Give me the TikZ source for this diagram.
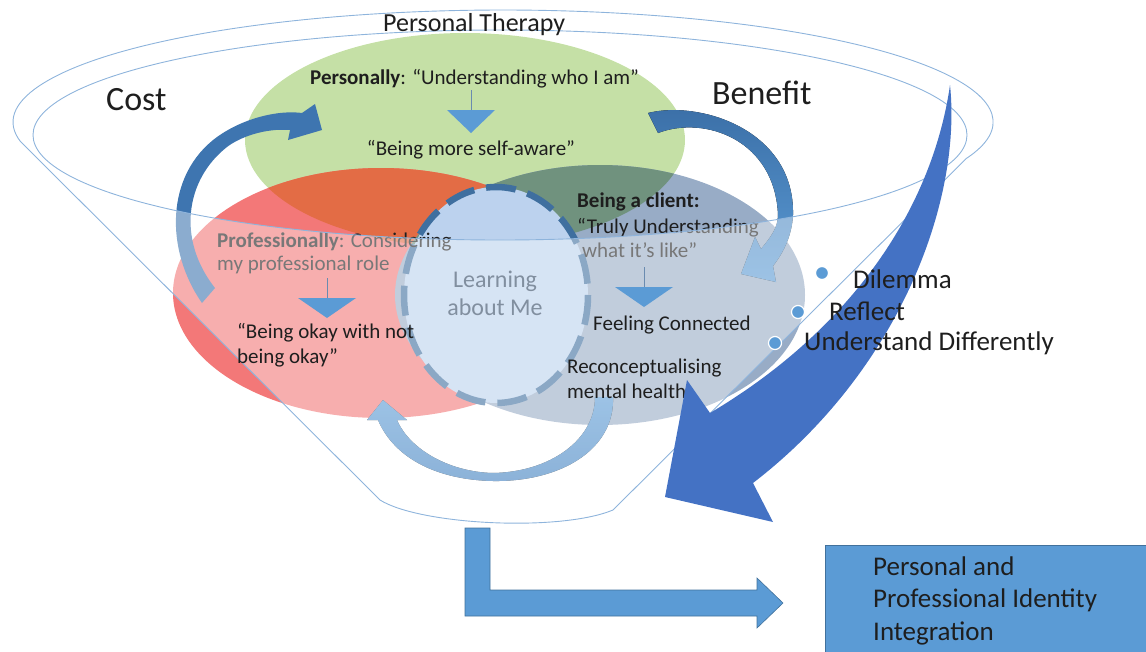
\documentclass[tikz,border=0pt]{standalone}
\usepackage{fontspec}
\setmainfont{Carlito}
\definecolor{greenE}{HTML}{C5E0A6}
\definecolor{redE}{HTML}{F37878}
\definecolor{orangeE}{HTML}{E36C45}
\definecolor{grayE}{HTML}{98ACC6}
\definecolor{dgreenE}{HTML}{70927E}
\definecolor{circfill}{HTML}{BCD2EE}
\definecolor{circline}{HTML}{3F6F9F}
\definecolor{learnc}{HTML}{2E4560}
\definecolor{costc}{HTML}{3E75B0}
\definecolor{bentop}{HTML}{3A6EA6}
\definecolor{benbot}{HTML}{5B9BD5}
\definecolor{rettop}{HTML}{5B9BD5}
\definecolor{retbot}{HTML}{3F7FBF}
\definecolor{triblue}{HTML}{5B9BD5}
\definecolor{stemc}{HTML}{6A8BB0}
\definecolor{funline}{HTML}{8EB4DC}
\definecolor{bigblue}{HTML}{4472C4}
\definecolor{boxblue}{HTML}{5B9BD5}
\definecolor{boxline}{HTML}{41719C}
\definecolor{dark}{HTML}{1E1E1E}
\tikzset{
  lbl/.style={inner sep=0pt, anchor=west, text=dark},
  sm/.style={lbl, font=\fontsize{21}{25}\selectfont, text height=15pt, text depth=4pt},
  mid/.style={lbl, font=\fontsize{24}{29}\selectfont, text height=17pt, text depth=4.8pt},
  md/.style={lbl, font=\fontsize{27}{32}\selectfont, text height=19.5pt, text depth=5.4pt},
  lg/.style={lbl, font=\fontsize{34}{40}\selectfont, text height=24.5pt, text depth=6.8pt},
  tri/.style={fill=triblue},
  stem/.style={draw=stemc, line width=0.8pt},
  fun/.style={draw=funline, line width=0.9pt},
  bdot/.style={circle, fill=triblue, draw=white, line width=1.2pt, minimum size=13pt, inner sep=0pt},
}
\begin{document}
\begin{tikzpicture}[x=1pt,y=-1pt]
\useasboundingbox (0,0) rectangle (1146,651);
% ---- three ellipses
\fill[greenE] (465,140) ellipse [x radius=220, y radius=107];
\fill[redE] (381,293) ellipse [x radius=208, y radius=125];
\begin{scope}
  \clip (465,140) ellipse [x radius=220, y radius=107];
  \fill[orangeE] (381,293) ellipse [x radius=208, y radius=125];
\end{scope}
\fill[grayE] (600,295) ellipse [x radius=205, y radius=130];
\begin{scope}
  \clip (465,140) ellipse [x radius=220, y radius=107];
  \fill[dgreenE] (600,295) ellipse [x radius=205, y radius=130];
\end{scope}
% ---- centre circle
\fill[circfill] (496,295) ellipse [x radius=92, y radius=108];
\draw[circline, line width=6.5pt, dash pattern=on 30pt off 12pt] (496,295) ellipse [x radius=92, y radius=108];
% ---- texts below the funnel veil
\node[sm] (prof1) at (217,241.5) {\textbf{Professionally}: Considering};
\node[sm] (prof2) at (217,265) {my professional role};
\node[sm] (cli1) at (577,201.5) {\textbf{Being a client:}};
\node[sm] (cli2) at (577,227.5) {“Truly Understanding};
\node[sm] (cli3) at (582,251.5) {what it’s like”};
\node[mid, anchor=center, text=learnc] (learn1) at (495,281) {Learning};
\node[mid, anchor=center, text=learnc] (learn2) at (495,309) {about Me};
% ---- cost arrow
\fill[costc] (202,303) .. controls (165,250) and (165,175) .. (217,137)
  .. controls (245,117) and (280,110) .. (302,113) -- (315,104) -- (322,130) -- (288,140) -- (290,130)
  .. controls (265,128) and (240,137) .. (227,147)
  .. controls (185,180) and (177,240) .. (215,288) -- cycle;
% ---- benefit arrow
\fill[top color=bentop, bottom color=benbot] (648,113) .. controls (700,100) and (795,130) .. (793,215)
  .. controls (792,235) and (784,252) .. (773,266) -- (776,282) -- (741,274) -- (755,237) -- (761,249)
  .. controls (770,238) and (778,228) .. (778,215)
  .. controls (775,140) and (705,115) .. (658,133) -- cycle;
% ---- return arrow
\fill[top color=rettop, bottom color=retbot] (613,397) .. controls (615,450) and (560,482) .. (493,481)
  .. controls (440,480) and (395,460) .. (378,420) -- (367,420) -- (383,400) -- (407,420) -- (397,420)
  .. controls (410,450) and (450,472) .. (493,473)
  .. controls (550,472) and (595,440) .. (595,397) -- cycle;
% ---- funnel veil
\begin{scope}
  \clip (613,510) -- (966.3,158.5) arc[start angle=19, end angle=-190, x radius=490, y radius=112]
    -- (380,500) .. controls (420,525) and (560,532) .. (613,510) -- cycle;
  \fill[white, fill opacity=0.4, even odd rule] (0,0) rectangle (1146,651)
    (500,135) ellipse [x radius=467, y radius=105];
\end{scope}
% ---- funnel lines
\draw[fun] (613,510) -- (966.3,158.5) arc[start angle=19, end angle=-190, x radius=490, y radius=112]
  -- (380,500) .. controls (420,525) and (560,532) .. (613,510);
\draw[fun] (500,135) ellipse [x radius=467, y radius=105];
% ---- texts on top
\node[md, font=\fontsize{26}{31}\selectfont] (pt) at (383,24) {Personal Therapy};
\node[lg] (cost) at (106,102) {Cost};
\node[lg] (ben) at (712,96) {Benefit};
\node[sm] (pers) at (310,78.5) {\textbf{Personally}: “Understanding who I am”};
\node[sm, anchor=center] (aware) at (471,149.5) {“Being more self-aware”};
\node[sm] (okay1) at (237,332.5) {“Being okay with not};
\node[sm] (okay2) at (237,357.5) {being okay”};
\node[sm] (feel) at (593,324.5) {Feeling Connected};
\node[sm] (rec1) at (567,367.5) {Reconceptualising};
\node[sm] (rec2) at (567,392.5) {mental health};
% ---- small down triangles
\draw[stem] (471,90) -- (471,110);
\fill[tri] (447,110) -- (495,110) -- (471,133) -- cycle;
\draw[stem] (327,278) -- (327,298);
\fill[tri] (298,298) -- (356,298) -- (327,318) -- cycle;
\draw[stem] (644,267) -- (644,287);
\fill[tri] (615,287) -- (673,287) -- (644,307) -- cycle;
% ---- big blue arrow
\fill[bigblue] (950,85) .. controls (962,200) and (900,370) .. (753,483) -- (773,522) -- (665,497)
  -- (687,380) -- (710,413) .. controls (850,330) and (932,210) .. (950,85) -- cycle;
% ---- bullet list
\node[bdot] (d1) at (822,273) {};
\node[bdot] (d2) at (798,312) {};
\node[bdot] (d3) at (775,343) {};
\node[md] (dil) at (853,281) {Dilemma};
\node[md] (ref) at (829,313) {Reflect};
\node[md] (und) at (804,343) {Understand Differently};
% ---- bent arrow and result box
\filldraw[fill=boxblue, draw=boxline, line width=0.6pt] (465,528) -- (490,528) -- (490,590) -- (757,590)
  -- (757,578) -- (783,603) -- (757,628) -- (757,616) -- (465,616) -- cycle;
\filldraw[fill=boxblue, draw=boxline, line width=0.6pt] (825,545) rectangle (1150,655);
\node[md] (b1) at (873,568) {Personal and};
\node[md] (b2) at (873,600) {Professional Identity};
\node[md] (b3) at (873,633) {Integration};
\end{tikzpicture}
\end{document}
